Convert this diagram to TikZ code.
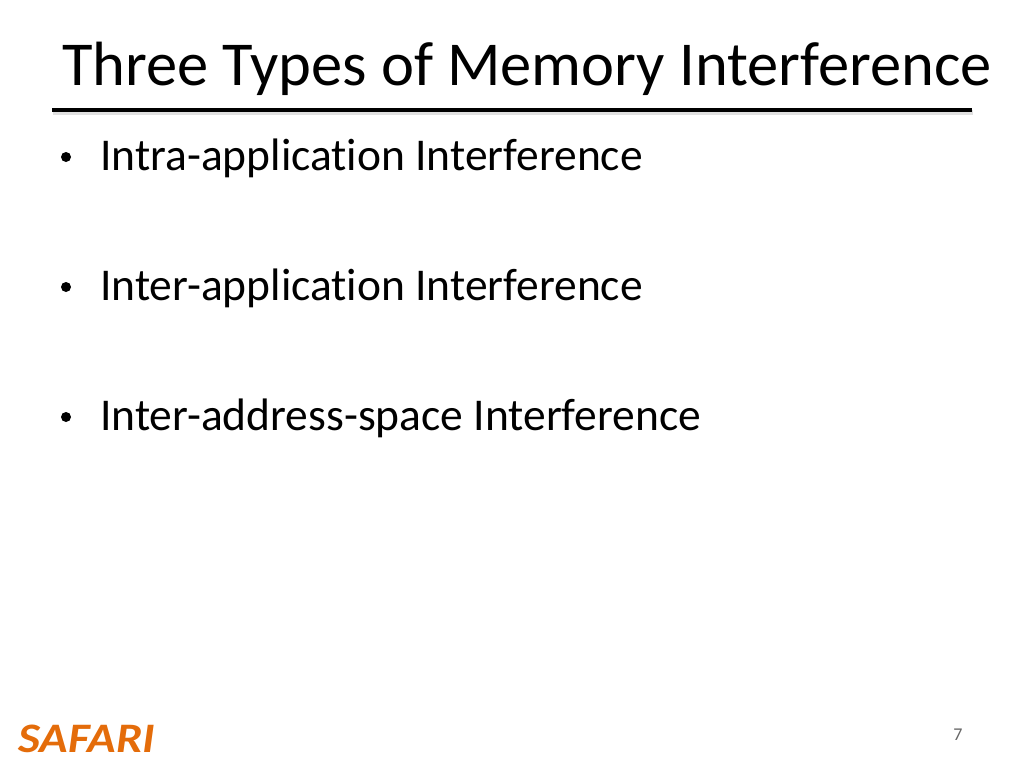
\documentclass[tikz,border=0pt]{standalone}
\usepackage{fontspec}
\setmainfont[Ligatures=NoCommon]{Carlito}
\definecolor{safari}{RGB}{228,108,10}
\tikzset{
  title/.style={anchor=base west,inner sep=0pt,font=\fontsize{62.5}{70}\selectfont},
  item/.style={anchor=base west,inner sep=0pt,font=\fontsize{45.5}{50}\selectfont},
  dot/.style={circle,fill=black,inner sep=0pt,minimum size=10}
}
\begin{document}
\begin{tikzpicture}[x=1pt,y=-1pt]
  \useasboundingbox[fill=white] (0,0) rectangle (1024,768);

  \node[title] (t) at (62,85) {Three Types of Memory Interference};
  \draw[line width=5,black!12] (53,112) -- (973,112);
  \draw[line width=4] (52,110) -- (972,110);

  \node[item] (i1) at (100,170) {Intra-application Interference};
  \node[item] (i2) at (100,300) {Inter-application Interference};
  \node[item] (i3) at (100,430) {Inter-address-space Interference};
  \node[dot] (d1) at (66,157) {};
  \node[dot] (d2) at (66,287) {};
  \node[dot] (d3) at (66,417) {};

  \node[anchor=base west,inner sep=0pt,text=safari,xscale=1.12,font=\fontsize{42}{42}\bfseries\itshape\selectfont] (logo) at (18,752) {SAFARI};
  \node[anchor=base,inner sep=0pt,text=black!60,font=\fontsize{18}{18}\selectfont] (pg) at (958,740) {7};
\end{tikzpicture}
\end{document}
